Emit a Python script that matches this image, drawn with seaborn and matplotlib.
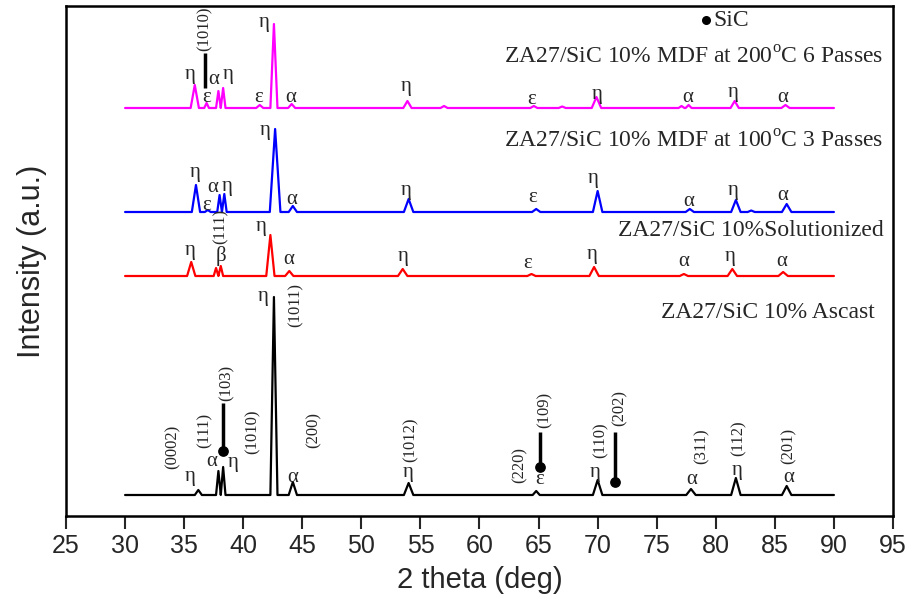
import numpy as np
import pandas as pd
import seaborn as sns
import matplotlib.pyplot as plt

# peak positions (2 theta), heights above baseline and half widths
samples = ['Ascast', 'Solutionized', 'MDF100', 'MDF200']
colors = ['#000000', '#ff0000', '#0000ff', '#ff00ff']
baselines = [21, 240, 304, 408]

ascast_pos = [36.2, 37.9, 38.3, 42.6, 44.2, 54.0, 64.8, 70.0, 77.9, 81.7, 86.0]
ascast_h = [5, 24, 28, 198, 13, 12, 4, 15, 6, 17, 9]
ascast_w = [0.3, 0.2, 0.2, 0.3, 0.35, 0.4, 0.3, 0.4, 0.4, 0.4, 0.4]

sol_pos = [35.6, 37.7, 38.1, 42.3, 43.9, 53.5, 64.4, 69.7, 77.3, 81.4, 85.7]
sol_h = [14, 8, 10, 41, 5, 7, 2, 9, 2, 7, 4]
sol_w = [0.35, 0.2, 0.2, 0.35, 0.35, 0.4, 0.35, 0.4, 0.35, 0.4, 0.4]

mdf100_pos = [36.0, 37.0, 38.0, 38.4, 42.7, 44.2, 54.0, 64.8, 70.0, 77.8, 81.7, 83.0, 86.0]
mdf100_h = [27, 2, 17, 18, 83, 6, 13, 3, 21, 3, 12, 1.5, 8]
mdf100_w = [0.35, 0.25, 0.2, 0.2, 0.45, 0.35, 0.4, 0.35, 0.4, 0.35, 0.4, 0.3, 0.4]

mdf200_pos = [35.9, 36.9, 37.9, 38.3, 41.4, 42.6, 44.1, 53.9, 57.0, 64.6, 67.0, 69.9, 77.1, 77.7, 81.6, 85.9]
mdf200_h = [23, 5, 17, 20, 3, 84, 4, 7, 2, 2, 1.5, 11, 2, 3, 7, 3]
mdf200_w = [0.35, 0.2, 0.2, 0.2, 0.3, 0.3, 0.3, 0.35, 0.3, 0.3, 0.3, 0.4, 0.25, 0.25, 0.35, 0.35]

peaks = [(ascast_pos, ascast_h, ascast_w), (sol_pos, sol_h, sol_w),
         (mdf100_pos, mdf100_h, mdf100_w), (mdf200_pos, mdf200_h, mdf200_w)]

sample_labels = ['ZA27/SiC 10% Ascast', 'ZA27/SiC 10%Solutionized',
                 'ZA27/SiC 10% MDF at 100$^{\\rm o}$C 3 Passes',
                 'ZA27/SiC 10% MDF at 200$^{\\rm o}$C 6 Passes']
sample_label_pos = [(93.44, 203), (94.2, 286), (94.2, 374), (94.2, 458)]

# phase letters: (text, 2theta, y)
phase_marks = [
    ('η', 35.49, 441), ('ε', 36.93, 419), ('α', 37.52, 436), ('η', 38.71, 441), ('ε', 41.33, 419),
    ('η', 41.75, 494), ('α', 44.04, 418), ('η', 53.76, 429), ('ε', 64.42, 417), ('η', 69.92, 421),
    ('α', 77.62, 418), ('η', 81.43, 424), ('α', 85.66, 418),
    ('η', 35.91, 344), ('ε', 36.93, 310), ('α', 37.44, 329), ('η', 38.62, 329), ('η', 41.84, 386),
    ('α', 44.12, 317), ('η', 53.76, 326), ('ε', 64.51, 319), ('η', 69.58, 338), ('α', 77.71, 315),
    ('η', 81.43, 326), ('α', 85.66, 321),
    ('η', 35.49, 266), ('β', 38.11, 260), ('η', 41.50, 290), ('α', 43.87, 257), ('η', 53.51, 260),
    ('ε', 64.09, 252), ('η', 69.50, 262), ('α', 77.28, 254), ('η', 81.26, 260), ('α', 85.58, 254),
    ('η', 35.49, 39), ('α', 37.35, 54), ('η', 39.13, 54), ('η', 41.67, 219), ('α', 44.20, 39),
    ('η', 53.93, 44), ('ε', 65.10, 36), ('η', 69.75, 44), ('α', 77.96, 37), ('η', 81.85, 46),
    ('α', 86.17, 39),
]

# miller indices, rotated
hkl_marks = [
    ('(1010)', 36.76, 487), ('(111)', 38.11, 290),
    ('(0002)', 34.05, 69), ('(111)', 36.76, 86), ('(103)', 38.62, 133), ('(1010)', 40.82, 84),
    ('(1011)', 44.46, 211), ('(200)', 45.98, 86), ('(1012)', 54.19, 76), ('(220)', 63.41, 51),
    ('(109)', 65.52, 106), ('(110)', 70.26, 76), ('(202)', 71.87, 108), ('(311)', 78.81, 70),
    ('(112)', 81.94, 78), ('(201)', 86.17, 70),
]

# SiC markers: x, line top, line bottom, dot y
sic_x = [38.28, 65.10, 71.45]
sic_top = [113, 84, 84]
sic_bot = [69, 53, 38]
sic_dot = [65, 49, 34]

rows = []
for name, base, (pos, h, w) in zip(samples, baselines, peaks):
    xs, ys = [30.0], [base]
    for p, hh, ww in zip(pos, h, w):
        xs += [p - ww, p, p + ww]
        ys += [base, base + hh, base]
    xs.append(90.0)
    ys.append(base)
    rows.append(pd.DataFrame({'two_theta': xs, 'intensity': ys, 'sample': name}))
df = pd.concat(rows, ignore_index=True)

sns.set_style('white')
fig = plt.figure(figsize=(9.07, 6.01), dpi=100)
ax = fig.add_axes([66/907, 85/601, 827/907, 510/601])

sns.lineplot(data=df, x='two_theta', y='intensity', hue='sample', palette=dict(zip(samples, colors)),
             estimator=None, sort=False, legend=False, linewidth=1.6, ax=ax)

serif = ['Liberation Serif', 'DejaVu Serif']
plt.rcParams['mathtext.fontset'] = 'custom'
plt.rcParams['mathtext.rm'] = 'Liberation Serif'

for txt, x, y in phase_marks:
    ax.text(x, y, txt, fontsize=15, family=serif, ha='center', va='center')
for txt, x, y in hkl_marks:
    ax.text(x, y, txt, fontsize=12, family=serif, ha='center', va='center', rotation=90)
for lab, (x, y) in zip(sample_labels, sample_label_pos):
    ax.text(x, y, lab, fontsize=17, family=serif, ha='right', va='center')

ax.vlines(sic_x, sic_bot, sic_top, color='black', linewidth=2.5)
ax.scatter(sic_x, sic_dot, s=45, color='black', zorder=5)
ax.vlines([36.76], [428], [463], color='black', linewidth=2.5)
ax.scatter([79.2], [496], s=30, color='black', clip_on=False)
ax.text(79.8, 496, 'SiC', fontsize=17, family=serif, ha='left', va='center')

ax.set_xlim(25, 95)
ax.set_ylim(0, 510)
ax.set_xticks(np.arange(25, 96, 5))
ax.set_yticks([])
for s in ax.spines.values():
    s.set_linewidth(1.8)
    s.set_color('black')
ax.tick_params(axis='x', direction='out', length=9, width=1.5, bottom=True, pad=4)
sans = ['Liberation Sans']
for t in ax.get_xticklabels():
    t.set_fontfamily(sans)
    t.set_fontsize(18)
ax.set_xlabel('2 theta (deg)', fontsize=21, family=sans, labelpad=6)
ax.set_ylabel('Intensity (a.u.)', fontsize=22, family=sans, labelpad=14)

fig.savefig('out.png', dpi=100)
